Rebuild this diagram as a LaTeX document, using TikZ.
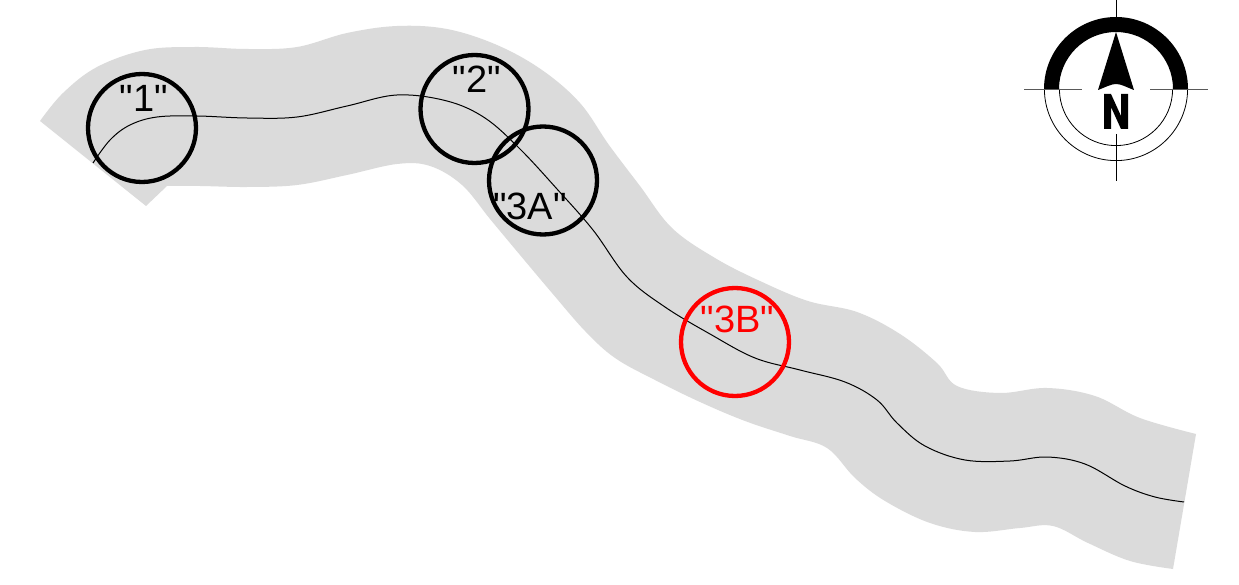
\documentclass[tikz,border=0pt]{standalone}
\usepackage{fontspec}
\newfontfamily\lblfont{Liberation Sans}
\definecolor{band}{HTML}{DBDBDB}
\tikzset{
  marker/.style={circle,draw=#1,line width=4.3pt,minimum size=108pt,inner sep=0pt,fill=none},
  lbl/.style={font=\lblfont\fontsize{38}{38}\selectfont,inner sep=0pt,anchor=base,text=#1},
  centre line/.style={line width=1pt,black}
}
\begin{document}
\begin{tikzpicture}[x=1pt,y=-1pt]
\useasboundingbox (0,0) rectangle (1239,585);
% band
\fill[band] plot[smooth,tension=0.6] coordinates {(40,121) (63,93) (97,67) (145,50) (195,47) (247,49) (297,47) (347,33) (397,26) (447,29) (497,45) (542,70) (580,103) (609,145) (640,186) (672,228) (715,258) (760,281) (808,301) (857,312) (900,334) (937,363) (957,386) (1000,393) (1047,388) (1095,396) (1140,418) (1196,434)}
 -- plot[smooth,tension=0.6] coordinates {(1173,569) (1130,561) (1088,543) (1053,526) (1020,528) (975,532) (930,523) (885,501) (855,478) (827,448) (790,436) (745,421) (700,402) (655,380) (615,358) (585,331) (552,293) (520,255) (490,219) (462,185) (430,166) (397,164) (347,175) (297,185) (247,187) (200,186) (167,186)} -- (146,206) -- cycle;
% centreline
\draw[centre line] plot[smooth,tension=0.6] coordinates {(93,163) (110,140) (130,125) (157,117) (197,116) (247,118) (297,117) (347,106) (397,95) (447,101) (485,118) (520,149) (557,189) (593,230) (627,277) (665,307) (710,334) (755,358) (800,370) (845,382) (877,400) (897,423) (925,446) (965,460) (1010,461) (1047,457) (1085,464) (1125,486) (1155,497) (1184,502)};
% markers
\node[marker=black] (c1) at (142,128) {};
\node[marker=black] (c2) at (474.5,109) {};
\node[marker=black] (c3a) at (543,180.5) {};
\node[marker=red] (c3b) at (735,342) {};
\node[lbl=black] (t1) at (144,112) {"1"};
\node[lbl=black] (t2) at (477,93) {"2"};
\node[lbl=black] (t3a) at (530,220) {"3A"};
\node[lbl=red] (t3b) at (737.5,332) {"3B"};
% north arrow
\fill[black] (1044,89) arc[start angle=180,end angle=360,radius=72] -- (1173,89) arc[start angle=360,end angle=180,radius=57] -- cycle;
\draw[line width=0.8pt] (1044.4,89) arc[start angle=180,end angle=0,radius=71.6];
\draw[line width=0.8pt] (1059.4,89) arc[start angle=180,end angle=0,radius=56.6];
\draw[line width=0.9pt] (1116,0) -- (1116,17);
\draw[line width=0.9pt] (1116,134) -- (1116,181);
\draw[line width=0.9pt,black!65] (1024,89) -- (1082,89);
\draw[line width=0.9pt,black!65] (1150,89) -- (1208,89);
\fill[black] (1116,32) -- (1134,90) .. controls (1126,87) and (1121,84) .. (1116,84) .. controls (1111,84) and (1106,87) .. (1098,90) -- cycle;
\fill[black] (1104,129) -- (1104,94) -- (1111,94) -- (1121,116) -- (1121,94) -- (1128,94) -- (1128,129) -- (1121,129) -- (1111,107) -- (1111,129) -- cycle;
\end{tikzpicture}
\end{document}
